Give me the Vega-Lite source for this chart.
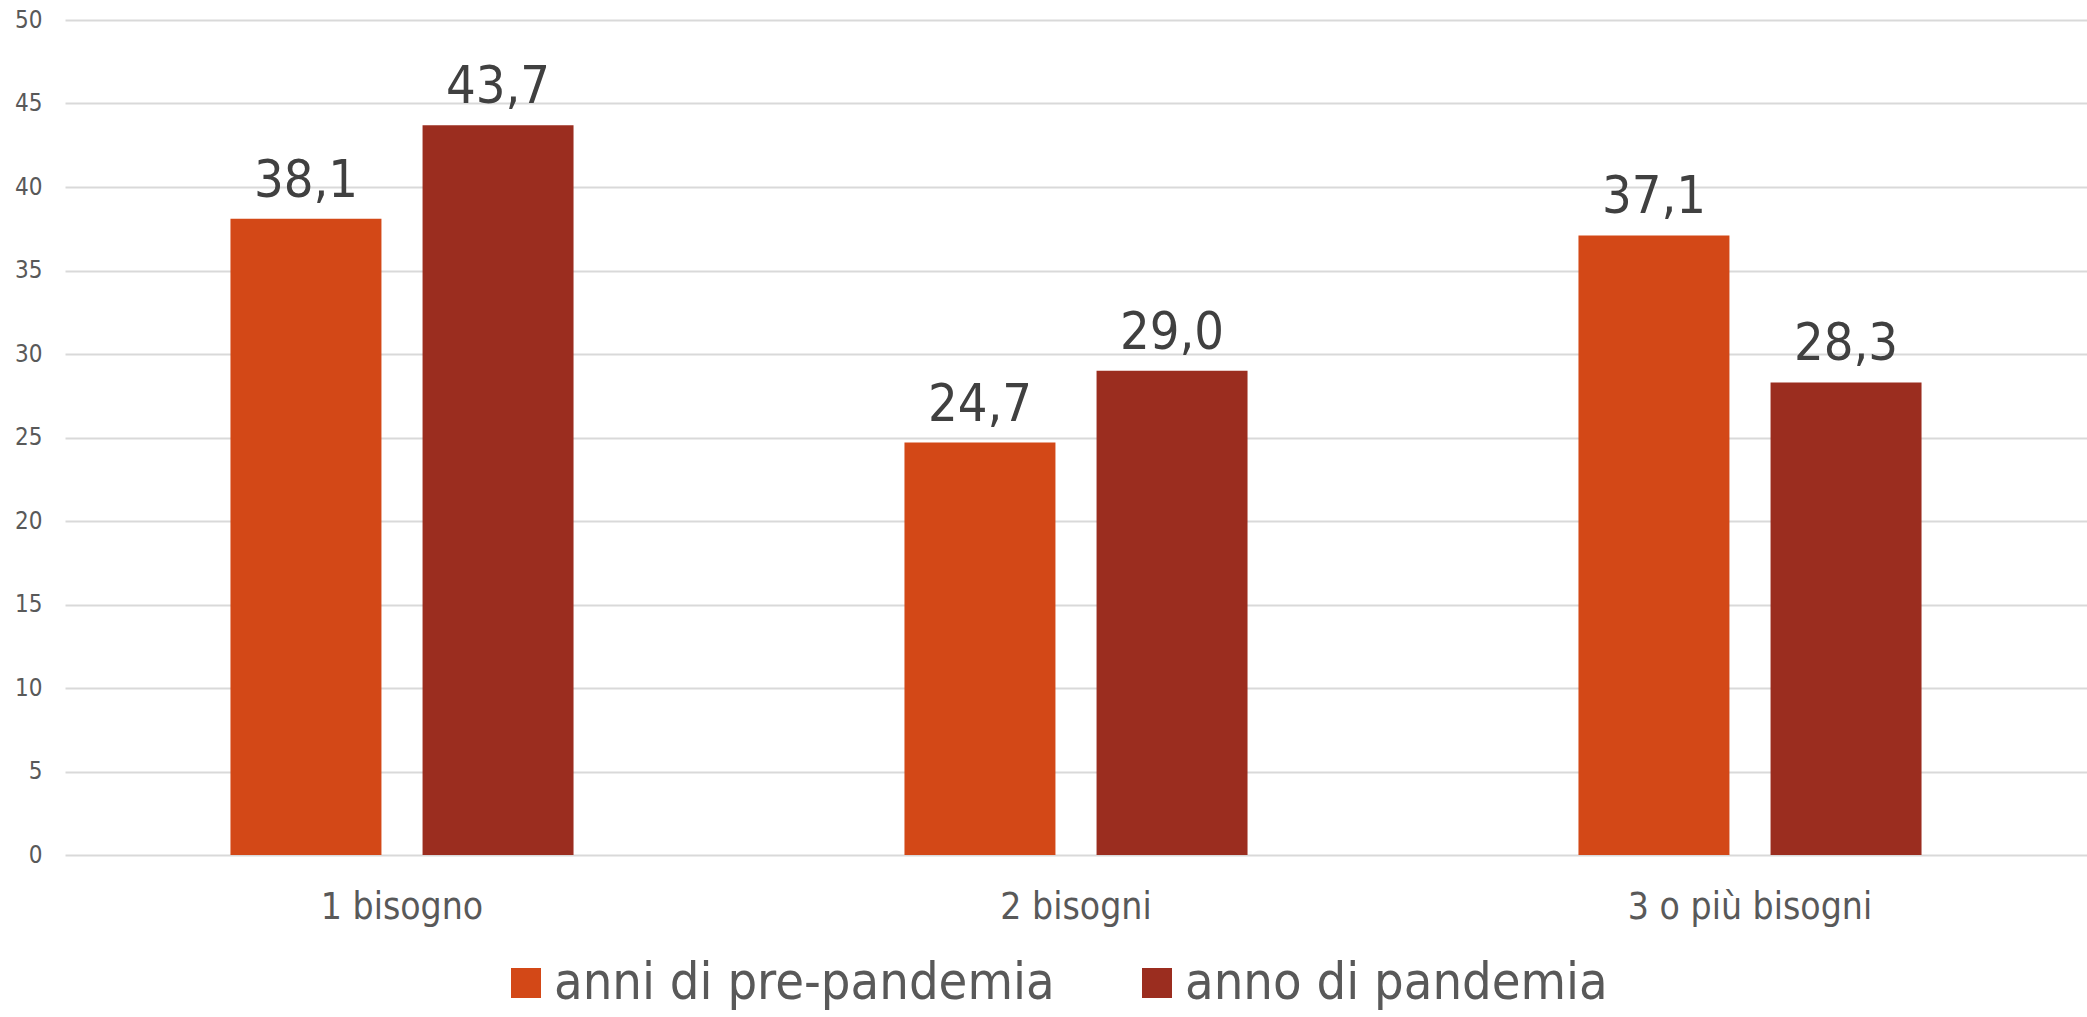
{
  "$schema": "https://vega.github.io/schema/vega-lite/v6.json",
  "width": 2022,
  "height": 835,
  "autosize": {"type": "none"},
  "padding": {"left": 65, "top": 20, "right": 0, "bottom": 162},
  "background": "#ffffff",
  "config": {
    "view": {"stroke": null},
    "font": "DejaVu Sans Condensed",
    "locale": {"number": {"decimal": ",", "thousands": ".", "grouping": [3], "currency": ["€", ""]}}
  },
  "data": {
    "values": [
      {"categoria": "1 bisogno", "serie": "anni di pre-pandemia", "valore": 38.1},
      {"categoria": "1 bisogno", "serie": "anno di pandemia", "valore": 43.7},
      {"categoria": "2 bisogni", "serie": "anni di pre-pandemia", "valore": 24.7},
      {"categoria": "2 bisogni", "serie": "anno di pandemia", "valore": 29.0},
      {"categoria": "3 o più bisogni", "serie": "anni di pre-pandemia", "valore": 37.1},
      {"categoria": "3 o più bisogni", "serie": "anno di pandemia", "valore": 28.3}
    ]
  },
  "encoding": {
    "x": {
      "field": "categoria", "type": "nominal", "sort": null,
      "scale": {"paddingInner": 0.491, "paddingOuter": 0.2455},
      "axis": {"title": null, "labelAngle": 0, "ticks": false, "tickSize": 0, "domain": false,
               "labelFontSize": 37, "labelColor": "#595959", "labelPadding": 34, "labelLimit": 1000,
               "labelFont": "DejaVu Sans Condensed"}
    },
    "xOffset": {
      "field": "serie", "type": "nominal", "sort": ["anni di pre-pandemia", "anno di pandemia"],
      "scale": {"paddingInner": 0.214, "paddingOuter": 0}
    },
    "y": {
      "field": "valore", "type": "quantitative",
      "scale": {"domain": [0, 50], "nice": false, "zero": true},
      "axis": {"title": null, "values": [0, 5, 10, 15, 20, 25, 30, 35, 40, 45, 50],
               "ticks": false, "tickSize": 0, "domain": false, "labelPadding": 23,
               "labelFontSize": 24, "labelColor": "#595959", "gridColor": "#d9d9d9", "gridWidth": 2,
               "labelFont": "DejaVu Sans Condensed"}
    }
  },
  "layer": [
    {
      "mark": {"type": "bar"},
      "encoding": {
        "color": {
          "field": "serie", "type": "nominal",
          "scale": {"domain": ["anni di pre-pandemia", "anno di pandemia"], "range": ["#D34817", "#9B2D1F"]},
          "legend": {
            "title": null, "orient": "none", "direction": "horizontal",
            "legendX": 435, "legendY": 937,
            "symbolType": "square", "symbolSize": 900, "symbolStrokeWidth": 0, "symbolOpacity": 1,
            "labelFontSize": 52, "labelColor": "#595959", "labelFont": "DejaVu Sans Condensed",
            "labelOffset": 2, "columnPadding": 76, "labelLimit": 1000
          }
        }
      }
    },
    {
      "mark": {"type": "text", "baseline": "alphabetic", "dy": -22, "fontSize": 52, "color": "#404040", "font": "DejaVu Sans Condensed"},
      "encoding": {
        "text": {"field": "valore", "type": "quantitative", "format": ".1f"}
      }
    }
  ]
}
